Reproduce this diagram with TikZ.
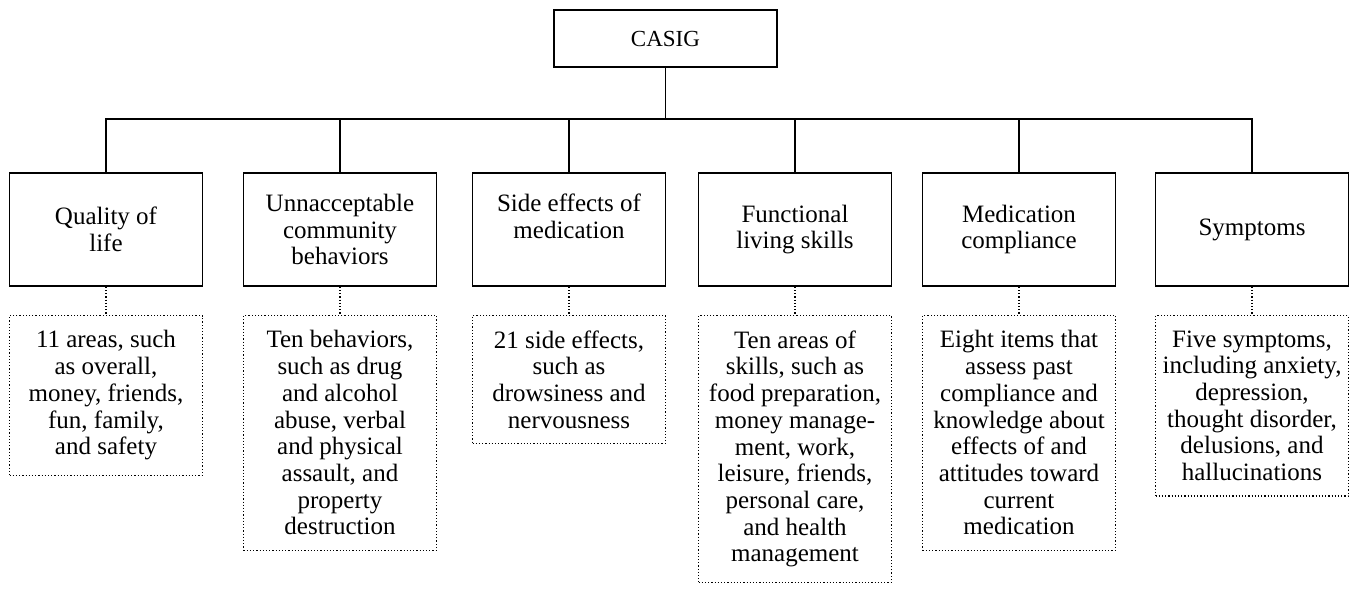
\documentclass[tikz,border=0pt]{standalone}
\usepackage{fontspec}
\setmainfont{Liberation Serif}
\newcommand{\bw}{96.5pt}
\newcommand{\bh}{56.5pt}

\begin{document}
\begin{tikzpicture}[x=0.5pt, y=-0.5pt,
    txt/.style={font=\fontsize{12.5}{13.35}\selectfont, align=center},
    head/.style={txt, draw, line width=0.8pt, rectangle, minimum width=\bw, minimum height=\bh, inner sep=0pt},
    detail/.style={txt, draw, densely dotted, line width=0.6pt, rectangle, anchor=north, minimum width=\bw, inner xsep=0pt, inner ysep=7.5pt},
    link/.style={line width=0.8pt},
    dotlink/.style={densely dotted, line width=0.6pt}]
    \useasboundingbox (0,0) rectangle (1351,596);

    % Root
    \node[head, minimum width=111.5pt, minimum height=28.5pt, font=\fontsize{11.5}{13}\selectfont] (casig) at (665.5,38.5) {CASIG};

    % Domains
    \node[head] (dom-1) at (106,229.5) {Quality of\\life};
    \node[head] (dom-2) at (340,229.5) {Unnacceptable\\community\\behaviors};
    \node[head] (dom-3) at (569,229.5) {Side effects of\\medication\\\phantom{x}};
    \node[head] (dom-4) at (795,229.5) {Functional\\living skills};
    \node[head] (dom-5) at (1019,229.5) {Medication\\compliance};
    \node[head] (dom-6) at (1252,229.5) {Symptoms};

    % Details
    \node[detail] (det-1) at (106,315) {11 areas, such\\as overall,\\money, friends,\\fun, family,\\and safety};
    \node[detail] (det-2) at (340,315) {Ten behaviors,\\such as drug\\and alcohol\\abuse, verbal\\and physical\\assault, and\\property\\destruction};
    \node[detail] (det-3) at (569,315) {21 side effects,\\such as\\drowsiness and\\nervousness};
    \node[detail] (det-4) at (795,315) {Ten areas of\\skills, such as\\food preparation,\\money manage-\\ment, work,\\leisure, friends,\\personal care,\\and health\\management};
    \node[detail] (det-5) at (1019,315) {Eight items that\\assess past\\compliance and\\knowledge about\\effects of and\\attitudes toward\\current\\medication};
    \node[detail] (det-6) at (1252,315) {Five symptoms,\\including anxiety,\\depression,\\thought disorder,\\delusions, and\\hallucinations};

    % Connectors
    \foreach \i in {1,...,6} {
        \draw[link] (casig.south) -- ++(0,51) -| (dom-\i.north);
        \draw[dotlink] (dom-\i.south) -- (det-\i.north);
    }
\end{tikzpicture}
\end{document}
